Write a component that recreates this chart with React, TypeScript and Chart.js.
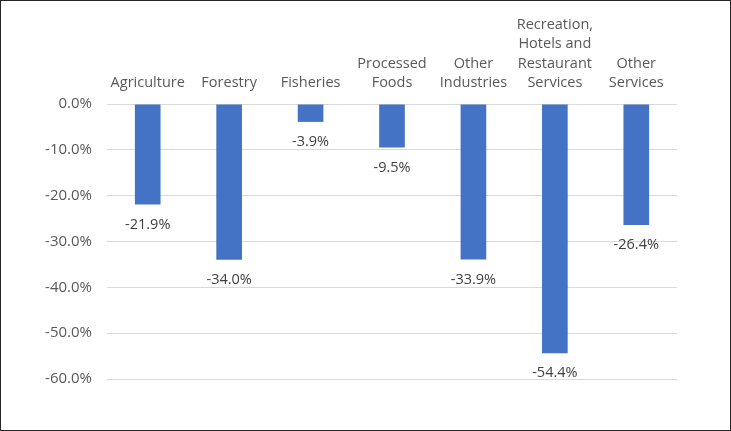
import React, { useEffect, useRef } from "react";
import { Chart, registerables } from "chart.js";

Chart.register(...registerables);

const categories: (string | string[])[] = [
  "Agriculture",
  "Forestry",
  "Fisheries",
  ["Processed", "Foods"],
  ["Other", "Industries"],
  ["Recreation,", "Hotels and", "Restaurant", "Services"],
  ["Other", "Services"],
];
const values: number[] = [-21.9, -34.0, -3.9, -9.5, -33.9, -54.4, -26.4];
const yTicks: number[] = [0, -10, -20, -30, -40, -50, -60];

const FONT = "'Open Sans', 'Noto Sans', sans-serif";

const dataLabels = {
  id: "dataLabels",
  afterDatasetsDraw(chart: any) {
    const ctx = chart.ctx;
    const meta = chart.getDatasetMeta(0);
    ctx.save();
    ctx.fillStyle = "#404040";
    ctx.font = `14.5px ${FONT}`;
    ctx.textAlign = "center";
    ctx.textBaseline = "middle";
    meta.data.forEach((bar: any, i: number) => {
      ctx.fillText(values[i].toFixed(1) + "%", bar.x, bar.y + 20);
    });
    ctx.restore();
  },
};

export default function App() {
  const ref = useRef<HTMLCanvasElement>(null);
  useEffect(() => {
    document.body.style.margin = "0";
    const chart = new Chart(ref.current!, {
      type: "bar",
      data: {
        labels: categories,
        datasets: [
          {
            data: values,
            backgroundColor: "#4472C4",
            barPercentage: 0.315,
            categoryPercentage: 1,
          },
        ],
      },
      options: {
        animation: false,
        responsive: false,
        maintainAspectRatio: false,
        layout: { padding: { left: 0, right: 53, top: 0, bottom: 51 } },
        plugins: { legend: { display: false }, tooltip: { enabled: false } },
        scales: {
          x: {
            position: "top",
            grid: { display: false, drawTicks: false },
            border: { display: false },
            ticks: {
              color: "#595959",
              font: { family: FONT, size: 14.5, lineHeight: 1.35 },
              maxRotation: 0,
              autoSkip: false,
              padding: 11,
            },
            afterFit(scale: any) {
              scale.height = 103;
            },
          },
          y: {
            min: -60,
            max: 0,
            afterBuildTicks(scale: any) {
              scale.ticks = yTicks.map((v) => ({ value: v }));
            },
            grid: { color: "#d9d9d9", lineWidth: 1, drawTicks: false },
            border: { display: false },
            ticks: {
              color: "#595959",
              font: { family: FONT, size: 15 },
              padding: 15,
              callback: (v: any) => Number(v).toFixed(1) + "%",
            },
            afterFit(scale: any) {
              scale.width = 106;
            },
          },
        },
      },
      plugins: [dataLabels],
    });
    return () => chart.destroy();
  }, []);
  return (
    <div
      style={{
        position: "absolute",
        left: 0,
        top: 0,
        width: 731,
        height: 431,
        boxSizing: "border-box",
        border: "1px solid #262626",
        background: "#fff",
      }}
    >
      <canvas ref={ref} width={729} height={429} style={{ display: "block" }} />
    </div>
  );
}
